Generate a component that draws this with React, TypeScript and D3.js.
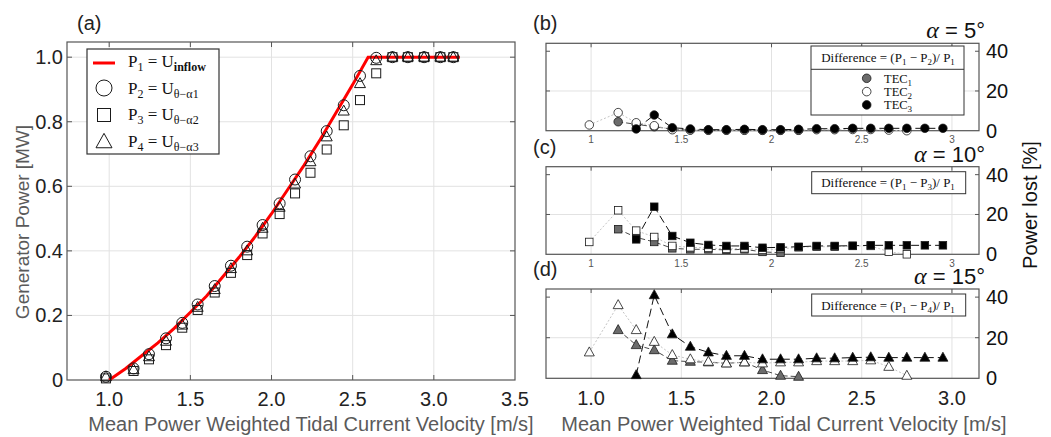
import React from "react";
import * as d3 from "d3";

// ---------------- data ----------------
const velocityLeft = [0.98, 1.15, 1.245, 1.35, 1.45, 1.545, 1.65, 1.75, 1.85, 1.945, 2.05, 2.145, 2.24, 2.34, 2.445, 2.545, 2.645, 2.745, 2.84, 2.94, 3.04, 3.12];
const powerP2 = [0.01, 0.036, 0.08, 0.129, 0.177, 0.234, 0.291, 0.354, 0.413, 0.48, 0.547, 0.621, 0.693, 0.771, 0.851, 0.942, 0.998, 1, 1, 1, 1, 1];
const powerP3 = [0.005, 0.028, 0.064, 0.108, 0.162, 0.217, 0.271, 0.332, 0.387, 0.454, 0.514, 0.578, 0.642, 0.714, 0.789, 0.867, 0.95, 1, 1, 1, 1, 1];
const powerP4 = [0.01, 0.032, 0.072, 0.12, 0.17, 0.225, 0.28, 0.345, 0.4, 0.47, 0.535, 0.607, 0.676, 0.753, 0.833, 0.918, 0.989, 1, 1, 1, 1, 1];
const velocityInflow = [1.0, 1.1, 1.2, 1.3, 1.4, 1.5, 1.6, 1.7, 1.8, 1.9, 2.0, 2.1, 2.2, 2.3, 2.4, 2.5, 2.595, 3.16];
const powerP1 = [0, 0.035, 0.075, 0.115, 0.16, 0.21, 0.26, 0.32, 0.38, 0.445, 0.515, 0.59, 0.665, 0.745, 0.83, 0.915, 1.0, 1.0];

const xTicksLeft = [1.0, 1.5, 2.0, 2.5, 3.0, 3.5];
const yTicksLeft = [0, 0.2, 0.4, 0.6, 0.8, 1.0];
const legendLeftP = ["1", "2", "3", "4"];
const legendLeftU = ["inflow", "θ−α1", "θ−α2", "θ−α3"];

const velocityRight = [0.99, 1.15, 1.25, 1.35, 1.45, 1.55, 1.65, 1.75, 1.85, 1.95, 2.05, 2.15, 2.25, 2.35, 2.45, 2.55, 2.65, 2.75, 2.85, 2.95];
const N = null;
const tec1Alpha5 = [N, 4.5, 3.2, 2.0, 0.8, 0.4, 0.3, 0.3, 0.3, 0.2, 0.2, 0.2, N, N, N, N, N, N, N, N];
const tec2Alpha5 = [2.9, 9.1, 4.0, 2.5, 0.5, 0.3, 0.2, 0.2, 0.2, 0.2, 0.2, 0.3, 0.5, 0.5, 0.6, 0.6, 0.3, 0.0, N, N];
const tec3Alpha5 = [N, N, 0.9, 7.9, 1.5, 0.9, 0.5, 0.5, 0.7, 0.5, 0.5, 0.7, 1.0, 1.0, 1.2, 1.2, 1.2, 1.2, 1.2, 1.2];
const tec1Alpha10 = [N, 12.6, 8.5, 6.2, 3.0, 2.5, 2.5, 2.2, 2.5, 1.2, 0.8, N, N, N, N, N, N, N, N, N];
const tec2Alpha10 = [6.2, 22.1, 11.9, 8.7, 4.2, 3.5, 3.2, 2.7, 3.0, 2.2, 2.7, 3.5, 3.8, 3.8, 4.2, 4.2, 1.3, 0, N, N];
const tec3Alpha10 = [N, N, 7.5, 23.9, 9.2, 5.8, 4.7, 4.2, 4.2, 3.3, 3.5, 3.8, 4.2, 4.2, 4.3, 4.5, 4.5, 4.5, 4.5, 4.5];
const tec1Alpha15 = [N, 23.8, 16.4, 13.9, 8.7, 8.2, 7.9, 7.4, 7.9, 4.1, 1.3, 0.8, N, N, N, N, N, N, N, N];
const tec2Alpha15 = [12.8, 36.1, 23.8, 18.0, 11.5, 9.4, 8.2, 7.4, 7.9, 7.4, 7.9, 7.9, 8.5, 8.5, 8.5, 8.9, 5.7, 1.3, N, N];
const tec3Alpha15 = [N, N, 1.6, 41.0, 21.7, 15.6, 12.8, 11.1, 11.1, 9.4, 9.4, 9.4, 9.9, 9.9, 10.2, 10.4, 10.2, 10.2, 10.2, 10.2];

const xTicksRight = [1, 1.5, 2, 2.5, 3];
const yTicksRight = [0, 20, 40];
const tecNames = ["1", "2", "3"];
const panelLetters = ["(b)", "(c)", "(d)"];
const panelAlphas = ["5°", "10°", "15°"];
const panelPIndex = ["2", "3", "4"];

// ---------------- styles ----------------
const SANS = "'Liberation Sans', Arial, Helvetica, sans-serif";
const SERIF = "'Liberation Serif', 'Times New Roman', serif";
const GRID = "#e2e2e2";
const FRAME = "#555";
const MK = "#1a1a1a";
const TEC_FILL = ["#6b6b6b", "#ffffff", "#000000"];
const TEC_LINE = ["#4a4a4a", "#c4c4c4", "#111111"];
const TEC_DASH = ["5,3", "2,2", "8,4"];

type Shape = "circle" | "square" | "triangle";

function Marker({ shape, x, y, s, fill, stroke, sw }: { shape: Shape; x: number; y: number; s: number; fill: string; stroke: string; sw: number }) {
  if (shape === "circle") return <circle cx={x} cy={y} r={s / 2} fill={fill} stroke={stroke} strokeWidth={sw} />;
  if (shape === "square") return <rect x={x - s / 2} y={y - s / 2} width={s} height={s} fill={fill} stroke={stroke} strokeWidth={sw} />;
  const h = s * 0.9;
  return <path d={`M${x},${y - h * 0.6}L${x + s / 2},${y + h * 0.4}L${x - s / 2},${y + h * 0.4}Z`} fill={fill} stroke={stroke} strokeWidth={sw} strokeLinejoin="miter" />;
}

function LeftPanel() {
  const L = 67, R = 515, T = 42, B = 380;
  const x = d3.scaleLinear().domain([0.74, 3.5]).range([L, R]);
  const y = d3.scaleLinear().domain([0, 1.047]).range([B, T]);
  const line = d3.line<number>().x((_, i) => x(velocityInflow[i])).y((d) => y(d));
  const fmt = d3.format(".1f");
  const series: { vals: number[]; shape: Shape; s: number }[] = [
    { vals: powerP3, shape: "square", s: 9 },
    { vals: powerP2, shape: "circle", s: 11 },
    { vals: powerP4, shape: "triangle", s: 11 },
  ];
  const legShapes: Shape[] = ["circle", "square", "triangle"];
  return (
    <g>
      <rect x={L} y={T} width={R - L} height={B - T} fill="#fff" />
      {xTicksLeft.filter((t) => t < 3.5).map((t) => (
        <line key={"gx" + t} x1={x(t)} x2={x(t)} y1={T} y2={B} stroke={GRID} />
      ))}
      {yTicksLeft.filter((t) => t > 0).map((t) => (
        <line key={"gy" + t} x1={L} x2={R} y1={y(t)} y2={y(t)} stroke={GRID} />
      ))}
      {xTicksLeft.filter((t) => t < 3.5).map((t) => (
        <g key={"tx" + t}>
          <line x1={x(t)} x2={x(t)} y1={T} y2={T + 5} stroke={FRAME} />
          <line x1={x(t)} x2={x(t)} y1={B} y2={B - 5} stroke={FRAME} />
        </g>
      ))}
      {yTicksLeft.filter((t) => t > 0).map((t) => (
        <g key={"ty" + t}>
          <line x1={L} x2={L + 5} y1={y(t)} y2={y(t)} stroke={FRAME} />
          <line x1={R} x2={R - 5} y1={y(t)} y2={y(t)} stroke={FRAME} />
        </g>
      ))}
      <rect x={L} y={T} width={R - L} height={B - T} fill="none" stroke={FRAME} strokeWidth={1.2} />
      <path d={line(powerP1) || ""} fill="none" stroke="#ff0000" strokeWidth={3} />
      {series.map((s, k) =>
        s.vals.map((v, i) => (
          <Marker key={k + "-" + i} shape={s.shape} x={x(velocityLeft[i])} y={y(v)} s={s.s} fill="none" stroke={MK} sw={1} />
        ))
      )}
      {xTicksLeft.map((t) => (
        <text key={"lx" + t} x={x(t)} y={406} textAnchor="middle" fontFamily={SANS} fontSize={20} fill="#222">
          {fmt(t)}
        </text>
      ))}
      {yTicksLeft.map((t) => (
        <text key={"ly" + t} x={63} y={y(t) + 7} textAnchor="end" fontFamily={SANS} fontSize={20} fill="#222">
          {t === 0 ? "0" : fmt(t)}
        </text>
      ))}
      <text x={(L + R) / 2 + 20} y={431} textAnchor="middle" fontFamily={SANS} fontSize={20} fill="#5a5a5a">
        Mean Power Weighted Tidal Current Velocity [m/s]
      </text>
      <text transform="translate(29,222) rotate(-90)" textAnchor="middle" fontFamily={SANS} fontSize={19} fill="#5a5a5a">
        Generator Power [MW]
      </text>
      <text x={77} y={30} fontFamily={SANS} fontSize={20} fill="#222">(a)</text>
      <rect x={87} y={49} width={132} height={105} fill="#fff" stroke="#333" strokeWidth={1.2} />
      <line x1={93} x2={115} y1={63} y2={63} stroke="#ff0000" strokeWidth={3} />
      {legShapes.map((sh, i) => (
        <Marker key={"lm" + i} shape={sh} x={104} y={88 + i * 27} s={sh === "square" ? 13 : 16} fill="none" stroke={MK} sw={1} />
      ))}
      {legendLeftP.map((p, i) => (
        <text key={"lt" + i} x={128} y={67 + i * 26.5} fontFamily={SERIF} fontSize={17} fill="#111">
          P<tspan dy={4} fontSize={12}>{p}</tspan>
          <tspan dy={-4}> = U</tspan>
          <tspan dy={4} fontSize={12} fontWeight={i === 0 ? 700 : 400}>{legendLeftU[i]}</tspan>
        </text>
      ))}
    </g>
  );
}

function RightPanel({ idx, T, B, tec, shape }: { idx: number; T: number; B: number; tec: (number | null)[][]; shape: Shape }) {
  const L = 546, R = 979;
  const x = d3.scaleLinear().domain([0.75, 3.15]).range([L, R]);
  const y = d3.scaleLinear().domain([0, 44]).range([B, T]);
  const fmtBig = d3.format(".1f");
  const fmtSmall = d3.format("~g");
  const line = d3
    .line<number | null>()
    .defined((d) => d !== null)
    .x((_, i) => x(velocityRight[i]))
    .y((d) => y(d as number));
  const ms = shape === "circle" ? 8.5 : shape === "square" ? 7.5 : 10;
  const last = idx === 2;
  return (
    <g>
      <rect x={L} y={T} width={R - L} height={B - T} fill="#fff" />
      {xTicksRight.map((t) => (
        <line key={"gx" + t} x1={x(t)} x2={x(t)} y1={T} y2={B} stroke={GRID} />
      ))}
      <line x1={L} x2={R} y1={y(20)} y2={y(20)} stroke={GRID} />
      {xTicksRight.map((t) => (
        <line key={"tx" + t} x1={x(t)} x2={x(t)} y1={T} y2={T + 4} stroke={FRAME} />
      ))}
      {yTicksRight.filter((t) => t > 0).map((t) => (
        <g key={"ty" + t}>
          <line x1={L} x2={L + 4} y1={y(t)} y2={y(t)} stroke={FRAME} />
          <line x1={R} x2={R - 4} y1={y(t)} y2={y(t)} stroke={FRAME} />
        </g>
      ))}
      <rect x={L} y={T} width={R - L} height={B - T} fill="none" stroke={FRAME} strokeWidth={1.2} />
      {tec.map((vals, k) => (
        <path key={"ln" + k} d={line(vals) || ""} fill="none" stroke={TEC_LINE[k]} strokeWidth={1} strokeDasharray={TEC_DASH[k]} />
      ))}
      {tec.map((vals, k) =>
        vals.map((v, i) =>
          v === null ? null : (
            <Marker key={k + "-" + i} shape={shape} x={x(velocityRight[i])} y={y(v)} s={ms} fill={TEC_FILL[k]} stroke={MK} sw={0.8} />
          )
        )
      )}
      {last
        ? xTicksRight.map((t) => (
            <text key={"bx" + t} x={x(t)} y={405} textAnchor="middle" fontFamily={SANS} fontSize={20} fill="#222">
              {fmtBig(t)}
            </text>
          ))
        : xTicksRight.map((t) => (
            <text key={"sx" + t} x={x(t)} y={B + 12.5} textAnchor="middle" fontFamily={SANS} fontSize={10} fill="#555">
              {fmtSmall(t)}
            </text>
          ))}
      {yTicksRight.map((t) => (
        <text key={"ry" + t} x={986} y={y(t) + 7} fontFamily={SANS} fontSize={20} fill="#111">
          {t}
        </text>
      ))}
      <text x={533} y={T - 13} fontFamily={SANS} fontSize={20} fill="#222">{panelLetters[idx]}</text>
      <text x={985} y={T - 5} textAnchor="end" fontSize={22} fill="#111">
        <tspan fontFamily={SERIF} fontStyle="italic" fontSize={24}>α</tspan>
        <tspan fontFamily={SANS}>{" = " + panelAlphas[idx]}</tspan>
      </text>
      {idx === 0 ? (
        <g>
          <rect x={811} y={46} width={153} height={69} fill="#fff" stroke="#333" strokeWidth={1} />
          <line x1={811} x2={964} y1={69.3} y2={69.3} stroke="#333" strokeWidth={1} />
          {tecNames.map((n, k) => (
            <g key={"lg" + k}>
              <circle cx={866.7} cy={78.3 + k * 13.3} r={4.3} fill={TEC_FILL[k]} stroke={MK} strokeWidth={0.8} />
              <text x={884} y={82.5 + k * 13.3} fontFamily={SERIF} fontSize={12.5} fill="#111">
                TEC<tspan dy={3} fontSize={9}>{n}</tspan>
              </text>
            </g>
          ))}
        </g>
      ) : (
        <rect x={811.7} y={T + 5} width={154} height={22} fill="#fff" stroke="#333" strokeWidth={1} />
      )}
      <text x={888} y={idx === 0 ? 62 : T + 20.5} textAnchor="middle" fontFamily={SERIF} fontSize={13} fill="#111">
        Difference = (P<tspan dy={3} fontSize={9}>1</tspan>
        <tspan dy={-3}> − P</tspan>
        <tspan dy={3} fontSize={9}>{panelPIndex[idx]}</tspan>
        <tspan dy={-3}>)/ P</tspan>
        <tspan dy={3} fontSize={9}>1</tspan>
      </text>
    </g>
  );
}

export default function App() {
  return (
    <svg width={1051} height={437} style={{ position: "absolute", left: 0, top: 0, display: "block", background: "#fff" }}>
      <rect width={1051} height={437} fill="#fff" />
      <LeftPanel />
      <RightPanel idx={0} T={43.3} B={130.7} tec={[tec1Alpha5, tec2Alpha5, tec3Alpha5]} shape="circle" />
      <RightPanel idx={1} T={166.7} B={254.3} tec={[tec1Alpha10, tec2Alpha10, tec3Alpha10]} shape="square" />
      <RightPanel idx={2} T={289} B={378.3} tec={[tec1Alpha15, tec2Alpha15, tec3Alpha15]} shape="triangle" />
      <text x={784} y={431} textAnchor="middle" fontFamily={SANS} fontSize={20} fill="#5a5a5a">
        Mean Power Weighted Tidal Current Velocity [m/s]
      </text>
      <text transform="translate(1037,205) rotate(-90)" textAnchor="middle" fontFamily={SANS} fontSize={20} fill="#111">
        Power lost [%]
      </text>
    </svg>
  );
}
